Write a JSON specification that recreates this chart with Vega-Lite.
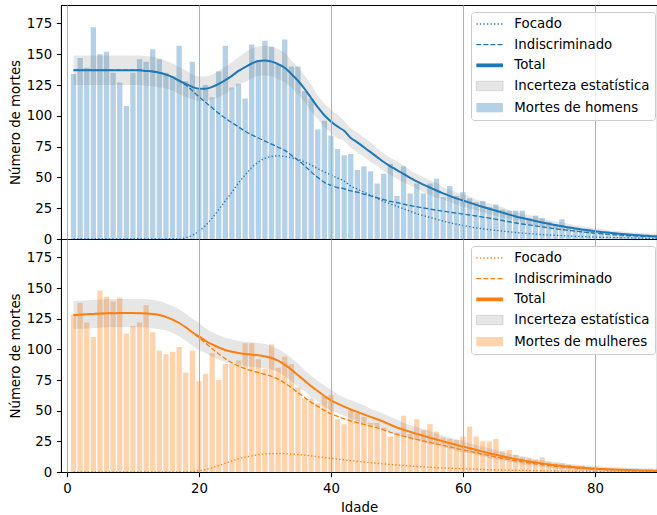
{
"$schema": "https://vega.github.io/schema/vega-lite/v6.json",
"padding": {"left": 8, "top": 4, "right": 0, "bottom": 0},
"spacing": 0,
"bounds": "flush",
"config": {
  "font": "DejaVu Sans",
  "view": {"stroke": "#000000", "strokeWidth": 1.07},
  "scale": {"continuousPadding": 0},
  "axis": {"labelFont": "DejaVu Sans", "titleFont": "DejaVu Sans", "labelFontSize": 13.33, "titleFontSize": 13.33, "titleFontWeight": "normal", "labelColor": "#000", "titleColor": "#000", "tickColor": "#000", "tickSize": 4.67, "tickWidth": 1.07, "labelPadding": 4.67, "titlePadding": 3.33, "domain": false, "gridColor": "#b0b0b0", "gridWidth": 1.07},
  "axisX": {"titlePadding": 5.33},
  "axisY": {"grid": false},
  "legend": {"labelFont": "DejaVu Sans", "title": null, "orient": "none", "legendX": 410, "legendY": 7, "padding": 5.33, "strokeColor": "#cccccc", "fillColor": "rgba(255,255,255,0.8)", "cornerRadius": 3, "labelFontSize": 13.33, "labelColor": "#000", "labelLimit": 0, "symbolSize": 100, "symbolOffset": 6.68, "labelOffset": 18, "rowPadding": 6.67, "symbolStrokeWidth": 1.33, "zindex": 2}
},
"resolve": {"scale": {"color": "independent", "strokeDash": "independent"}, "legend": {"color": "independent"}},
"datasets": {
"homens": [
{"a":1,"d":134,"Focado":0,"Indiscriminado":137,"Total":137,"lo":125,"hi":149},
{"a":2,"d":147,"Focado":0,"Indiscriminado":137,"Total":137,"lo":125,"hi":149},
{"a":3,"d":139,"Focado":0,"Indiscriminado":137,"Total":137,"lo":125,"hi":149},
{"a":4,"d":172,"Focado":0,"Indiscriminado":137,"Total":137,"lo":125,"hi":149},
{"a":5,"d":150,"Focado":0,"Indiscriminado":137,"Total":137,"lo":125,"hi":149},
{"a":6,"d":152,"Focado":0,"Indiscriminado":137,"Total":137,"lo":125,"hi":149},
{"a":7,"d":135,"Focado":0,"Indiscriminado":137,"Total":137,"lo":125,"hi":149},
{"a":8,"d":127,"Focado":0,"Indiscriminado":137,"Total":137,"lo":125,"hi":149},
{"a":9,"d":108,"Focado":0,"Indiscriminado":137,"Total":137,"lo":125,"hi":149},
{"a":10,"d":135,"Focado":0,"Indiscriminado":137,"Total":137,"lo":125,"hi":149},
{"a":11,"d":146,"Focado":0,"Indiscriminado":137,"Total":137,"lo":125,"hi":149},
{"a":12,"d":144,"Focado":0,"Indiscriminado":136.5,"Total":136.5,"lo":124.5,"hi":148.5},
{"a":13,"d":154,"Focado":0,"Indiscriminado":136,"Total":136,"lo":124,"hi":148},
{"a":14,"d":146,"Focado":0,"Indiscriminado":135,"Total":135,"lo":123,"hi":147},
{"a":15,"d":135,"Focado":0,"Indiscriminado":133.5,"Total":133.5,"lo":122.5,"hi":144.5},
{"a":16,"d":132,"Focado":0,"Indiscriminado":131.5,"Total":131.5,"lo":120.5,"hi":142.5},
{"a":17,"d":157,"Focado":0,"Indiscriminado":128.5,"Total":128.5,"lo":117.5,"hi":139.5},
{"a":18,"d":128,"Focado":1,"Indiscriminado":125,"Total":126,"lo":115,"hi":137},
{"a":19,"d":144,"Focado":3,"Indiscriminado":120.5,"Total":123.5,"lo":113.5,"hi":133.5},
{"a":20,"d":121,"Focado":6.5,"Indiscriminado":115.5,"Total":122,"lo":112,"hi":132},
{"a":21,"d":125,"Focado":11,"Indiscriminado":111,"Total":122,"lo":112,"hi":132},
{"a":22,"d":115,"Focado":17,"Indiscriminado":106.5,"Total":123.5,"lo":113.5,"hi":133.5},
{"a":23,"d":136,"Focado":24,"Indiscriminado":102,"Total":126,"lo":115,"hi":137},
{"a":24,"d":157,"Focado":31,"Indiscriminado":98,"Total":129,"lo":118,"hi":140},
{"a":25,"d":123,"Focado":38,"Indiscriminado":94.5,"Total":132.5,"lo":121.5,"hi":143.5},
{"a":26,"d":126,"Focado":45.5,"Indiscriminado":91,"Total":136.5,"lo":125.5,"hi":147.5},
{"a":27,"d":114,"Focado":52,"Indiscriminado":87.5,"Total":139.5,"lo":127.5,"hi":151.5},
{"a":28,"d":158,"Focado":58,"Indiscriminado":84.5,"Total":142.5,"lo":130.5,"hi":154.5},
{"a":29,"d":145,"Focado":62.5,"Indiscriminado":82,"Total":144.5,"lo":132.5,"hi":156.5},
{"a":30,"d":161,"Focado":65.5,"Indiscriminado":79.5,"Total":145,"lo":133,"hi":157},
{"a":31,"d":156,"Focado":67,"Indiscriminado":77,"Total":144,"lo":132,"hi":156},
{"a":32,"d":142,"Focado":67.5,"Indiscriminado":74.5,"Total":142,"lo":130,"hi":154},
{"a":33,"d":162,"Focado":67,"Indiscriminado":72,"Total":139,"lo":127,"hi":151},
{"a":34,"d":140,"Focado":66,"Indiscriminado":68,"Total":134,"lo":123,"hi":145},
{"a":35,"d":140,"Focado":64.5,"Indiscriminado":64,"Total":128.5,"lo":117.5,"hi":139.5},
{"a":36,"d":120,"Focado":62.5,"Indiscriminado":59.5,"Total":122,"lo":111,"hi":133},
{"a":37,"d":114,"Focado":60,"Indiscriminado":54.5,"Total":114.5,"lo":103.5,"hi":125.5},
{"a":38,"d":89,"Focado":57,"Indiscriminado":50,"Total":107,"lo":97.5,"hi":116.5},
{"a":39,"d":96,"Focado":54.5,"Indiscriminado":46,"Total":100.5,"lo":91,"hi":110},
{"a":40,"d":84,"Focado":52,"Indiscriminado":43.5,"Total":95.5,"lo":86,"hi":105},
{"a":41,"d":73,"Focado":49.5,"Indiscriminado":41.8,"Total":91.3,"lo":81.8,"hi":100.8},
{"a":42,"d":68,"Focado":47,"Indiscriminado":40.8,"Total":87.8,"lo":79.8,"hi":95.8},
{"a":43,"d":69,"Focado":43,"Indiscriminado":39,"Total":82,"lo":74,"hi":90},
{"a":44,"d":56,"Focado":40.5,"Indiscriminado":38,"Total":78.5,"lo":70.5,"hi":86.5},
{"a":45,"d":59,"Focado":38,"Indiscriminado":36.5,"Total":74.5,"lo":66.5,"hi":82.5},
{"a":46,"d":55,"Focado":35.5,"Indiscriminado":35,"Total":70.5,"lo":62.5,"hi":78.5},
{"a":47,"d":45,"Focado":33,"Indiscriminado":33.5,"Total":66.5,"lo":59.5,"hi":73.5},
{"a":48,"d":53,"Focado":30.5,"Indiscriminado":32,"Total":62.5,"lo":55.5,"hi":69.5},
{"a":49,"d":61,"Focado":28.5,"Indiscriminado":30.5,"Total":59,"lo":52,"hi":66},
{"a":50,"d":35,"Focado":26.5,"Indiscriminado":29.5,"Total":56,"lo":49,"hi":63},
{"a":51,"d":59,"Focado":24.5,"Indiscriminado":28.3,"Total":52.8,"lo":45.8,"hi":59.8},
{"a":52,"d":37,"Focado":22.5,"Indiscriminado":27.2,"Total":49.7,"lo":43.7,"hi":55.7},
{"a":53,"d":45,"Focado":20.5,"Indiscriminado":26.2,"Total":46.7,"lo":40.7,"hi":52.7},
{"a":54,"d":37,"Focado":19,"Indiscriminado":25.2,"Total":44.2,"lo":38.2,"hi":50.2},
{"a":55,"d":45,"Focado":17.5,"Indiscriminado":24.3,"Total":41.8,"lo":35.8,"hi":47.8},
{"a":56,"d":49,"Focado":16,"Indiscriminado":23.4,"Total":39.4,"lo":33.4,"hi":45.4},
{"a":57,"d":34,"Focado":14.5,"Indiscriminado":22.6,"Total":37.1,"lo":32.1,"hi":42.1},
{"a":58,"d":43,"Focado":13.2,"Indiscriminado":21.8,"Total":35,"lo":30,"hi":40},
{"a":59,"d":35,"Focado":12,"Indiscriminado":21,"Total":33,"lo":28,"hi":38},
{"a":60,"d":38,"Focado":11,"Indiscriminado":20.3,"Total":31.3,"lo":26.3,"hi":36.3},
{"a":61,"d":33,"Focado":10,"Indiscriminado":19.5,"Total":29.5,"lo":24.5,"hi":34.5},
{"a":62,"d":30,"Focado":9,"Indiscriminado":18.7,"Total":27.7,"lo":23.4,"hi":32},
{"a":63,"d":31,"Focado":8.3,"Indiscriminado":17.8,"Total":26.1,"lo":21.8,"hi":30.4},
{"a":64,"d":26,"Focado":7.6,"Indiscriminado":16.9,"Total":24.5,"lo":20.2,"hi":28.8},
{"a":65,"d":28,"Focado":7,"Indiscriminado":16,"Total":23,"lo":18.7,"hi":27.3},
{"a":66,"d":24,"Focado":6.4,"Indiscriminado":15,"Total":21.4,"lo":17.1,"hi":25.7},
{"a":67,"d":23,"Focado":5.8,"Indiscriminado":14,"Total":19.8,"lo":16.2,"hi":23.4},
{"a":68,"d":23,"Focado":5.3,"Indiscriminado":13,"Total":18.3,"lo":14.7,"hi":21.9},
{"a":69,"d":23,"Focado":4.8,"Indiscriminado":12.2,"Total":17,"lo":13.4,"hi":20.6},
{"a":70,"d":17,"Focado":4.4,"Indiscriminado":11.4,"Total":15.8,"lo":12.2,"hi":19.4},
{"a":71,"d":19,"Focado":4,"Indiscriminado":10.6,"Total":14.6,"lo":11,"hi":18.2},
{"a":72,"d":17,"Focado":3.6,"Indiscriminado":9.8,"Total":13.4,"lo":10.4,"hi":16.4},
{"a":73,"d":14,"Focado":3.3,"Indiscriminado":9,"Total":12.3,"lo":9.3,"hi":15.3},
{"a":74,"d":12,"Focado":3,"Indiscriminado":8.3,"Total":11.3,"lo":8.3,"hi":14.3},
{"a":75,"d":16,"Focado":2.7,"Indiscriminado":7.6,"Total":10.3,"lo":7.3,"hi":13.3},
{"a":76,"d":10,"Focado":2.4,"Indiscriminado":7,"Total":9.4,"lo":6.4,"hi":12.4},
{"a":77,"d":9,"Focado":2.2,"Indiscriminado":6.4,"Total":8.6,"lo":6.1,"hi":11.1},
{"a":78,"d":8,"Focado":2,"Indiscriminado":5.8,"Total":7.8,"lo":5.3,"hi":10.3},
{"a":79,"d":8,"Focado":1.8,"Indiscriminado":5.3,"Total":7.1,"lo":4.6,"hi":9.6},
{"a":80,"d":6,"Focado":1.6,"Indiscriminado":4.8,"Total":6.4,"lo":3.9,"hi":8.9},
{"a":81,"d":5,"Focado":1.4,"Indiscriminado":4.3,"Total":5.7,"lo":3.2,"hi":8.2},
{"a":82,"d":4,"Focado":1.3,"Indiscriminado":3.9,"Total":5.2,"lo":3.2,"hi":7.2},
{"a":83,"d":4,"Focado":1.1,"Indiscriminado":3.5,"Total":4.6,"lo":2.6,"hi":6.6},
{"a":84,"d":3,"Focado":1,"Indiscriminado":3.1,"Total":4.1,"lo":2.1,"hi":6.1},
{"a":85,"d":3,"Focado":0.9,"Indiscriminado":2.8,"Total":3.7,"lo":1.7,"hi":5.7},
{"a":86,"d":2,"Focado":0.8,"Indiscriminado":2.5,"Total":3.3,"lo":1.3,"hi":5.3},
{"a":87,"d":2,"Focado":0.7,"Indiscriminado":2.2,"Total":2.9,"lo":0.9,"hi":4.9},
{"a":88,"d":1,"Focado":0.6,"Indiscriminado":2,"Total":2.6,"lo":0.6,"hi":4.6},
{"a":89,"d":1,"Focado":0.5,"Indiscriminado":1.8,"Total":2.3,"lo":0.3,"hi":4.3},
{"a":90,"d":null,"Focado":0.5,"Indiscriminado":1.6,"Total":2.1,"lo":0.1,"hi":4.1}
],
"mulheres": [
{"a":1,"d":128,"Focado":0,"Indiscriminado":128,"Total":128,"lo":116.5,"hi":139.5},
{"a":2,"d":138,"Focado":0,"Indiscriminado":128.3,"Total":128.3,"lo":116.8,"hi":139.8},
{"a":3,"d":122,"Focado":0,"Indiscriminado":128.6,"Total":128.6,"lo":117.1,"hi":140.1},
{"a":4,"d":110,"Focado":0,"Indiscriminado":128.9,"Total":128.9,"lo":117.4,"hi":140.4},
{"a":5,"d":148,"Focado":0,"Indiscriminado":129.2,"Total":129.2,"lo":117.7,"hi":140.7},
{"a":6,"d":143,"Focado":0,"Indiscriminado":129.4,"Total":129.4,"lo":117.9,"hi":140.9},
{"a":7,"d":139,"Focado":0,"Indiscriminado":129.5,"Total":129.5,"lo":118,"hi":141},
{"a":8,"d":142,"Focado":0,"Indiscriminado":129.6,"Total":129.6,"lo":118.1,"hi":141.1},
{"a":9,"d":113,"Focado":0,"Indiscriminado":129.6,"Total":129.6,"lo":118.1,"hi":141.1},
{"a":10,"d":119,"Focado":0,"Indiscriminado":129.6,"Total":129.6,"lo":118.1,"hi":141.1},
{"a":11,"d":122,"Focado":0,"Indiscriminado":129.5,"Total":129.5,"lo":118,"hi":141},
{"a":12,"d":136,"Focado":0,"Indiscriminado":129.3,"Total":129.3,"lo":117.8,"hi":140.8},
{"a":13,"d":114,"Focado":0,"Indiscriminado":128.8,"Total":128.8,"lo":117.3,"hi":140.3},
{"a":14,"d":99,"Focado":0,"Indiscriminado":128,"Total":128,"lo":116.5,"hi":139.5},
{"a":15,"d":96,"Focado":0,"Indiscriminado":126.5,"Total":126.5,"lo":115.5,"hi":137.5},
{"a":16,"d":98,"Focado":0,"Indiscriminado":124.3,"Total":124.3,"lo":113.3,"hi":135.3},
{"a":17,"d":102,"Focado":0,"Indiscriminado":121.5,"Total":121.5,"lo":110.5,"hi":132.5},
{"a":18,"d":81,"Focado":0,"Indiscriminado":118,"Total":118,"lo":107,"hi":129},
{"a":19,"d":99,"Focado":0.3,"Indiscriminado":113.7,"Total":114,"lo":103,"hi":125},
{"a":20,"d":74,"Focado":1,"Indiscriminado":109.5,"Total":110.5,"lo":99.5,"hi":121.5},
{"a":21,"d":80,"Focado":2,"Indiscriminado":105,"Total":107,"lo":97,"hi":117},
{"a":22,"d":97,"Focado":3.5,"Indiscriminado":100.5,"Total":104,"lo":94,"hi":114},
{"a":23,"d":75,"Focado":5.3,"Indiscriminado":96.2,"Total":101.5,"lo":91.5,"hi":111.5},
{"a":24,"d":88,"Focado":7.2,"Indiscriminado":92.3,"Total":99.5,"lo":89.5,"hi":109.5},
{"a":25,"d":88,"Focado":9,"Indiscriminado":89,"Total":98,"lo":88,"hi":108},
{"a":26,"d":91,"Focado":10.7,"Indiscriminado":86.3,"Total":97,"lo":87,"hi":107},
{"a":27,"d":105,"Focado":12.1,"Indiscriminado":84.2,"Total":96.3,"lo":86.3,"hi":106.3},
{"a":28,"d":105,"Focado":13.2,"Indiscriminado":82.6,"Total":95.8,"lo":85.8,"hi":105.8},
{"a":29,"d":92,"Focado":14.1,"Indiscriminado":81.1,"Total":95.2,"lo":85.2,"hi":105.2},
{"a":30,"d":84,"Focado":14.7,"Indiscriminado":79.6,"Total":94.3,"lo":84.3,"hi":104.3},
{"a":31,"d":104,"Focado":15,"Indiscriminado":78,"Total":93,"lo":83.5,"hi":102.5},
{"a":32,"d":85,"Focado":15.1,"Indiscriminado":75.7,"Total":90.8,"lo":81.3,"hi":100.3},
{"a":33,"d":94,"Focado":15,"Indiscriminado":72.5,"Total":87.5,"lo":78,"hi":97},
{"a":34,"d":88,"Focado":14.7,"Indiscriminado":68.8,"Total":83.5,"lo":74,"hi":93},
{"a":35,"d":69,"Focado":14.3,"Indiscriminado":64.7,"Total":79,"lo":69.5,"hi":88.5},
{"a":36,"d":60,"Focado":13.8,"Indiscriminado":60.7,"Total":74.5,"lo":66,"hi":83},
{"a":37,"d":60,"Focado":13.2,"Indiscriminado":56.8,"Total":70,"lo":61.5,"hi":78.5},
{"a":38,"d":56,"Focado":12.5,"Indiscriminado":53.5,"Total":66,"lo":57.5,"hi":74.5},
{"a":39,"d":62,"Focado":11.8,"Indiscriminado":50.2,"Total":62,"lo":53.5,"hi":70.5},
{"a":40,"d":63,"Focado":11.1,"Indiscriminado":47.4,"Total":58.5,"lo":50,"hi":67},
{"a":41,"d":43,"Focado":10.5,"Indiscriminado":45.3,"Total":55.8,"lo":48.3,"hi":63.3},
{"a":42,"d":39,"Focado":9.9,"Indiscriminado":43.4,"Total":53.3,"lo":45.8,"hi":60.8},
{"a":43,"d":50,"Focado":9.3,"Indiscriminado":41.7,"Total":51,"lo":43.5,"hi":58.5},
{"a":44,"d":48,"Focado":8.7,"Indiscriminado":40.3,"Total":49,"lo":41.5,"hi":56.5},
{"a":45,"d":45,"Focado":8.1,"Indiscriminado":38.9,"Total":47,"lo":39.5,"hi":54.5},
{"a":46,"d":40,"Focado":7.6,"Indiscriminado":37.4,"Total":45,"lo":38.5,"hi":51.5},
{"a":47,"d":40,"Focado":7.1,"Indiscriminado":35.9,"Total":43,"lo":36.5,"hi":49.5},
{"a":48,"d":36,"Focado":6.6,"Indiscriminado":34.4,"Total":41,"lo":34.5,"hi":47.5},
{"a":49,"d":29,"Focado":6.1,"Indiscriminado":32.4,"Total":38.5,"lo":32,"hi":45},
{"a":50,"d":32,"Focado":5.7,"Indiscriminado":30.6,"Total":36.3,"lo":29.8,"hi":42.8},
{"a":51,"d":46,"Focado":5.3,"Indiscriminado":29.2,"Total":34.5,"lo":29,"hi":40},
{"a":52,"d":31,"Focado":4.9,"Indiscriminado":27.9,"Total":32.8,"lo":27.3,"hi":38.3},
{"a":53,"d":43,"Focado":4.5,"Indiscriminado":26.6,"Total":31.1,"lo":25.6,"hi":36.6},
{"a":54,"d":34,"Focado":4.2,"Indiscriminado":25.3,"Total":29.5,"lo":24,"hi":35},
{"a":55,"d":39,"Focado":3.9,"Indiscriminado":24.1,"Total":28,"lo":22.5,"hi":33.5},
{"a":56,"d":33,"Focado":3.6,"Indiscriminado":22.9,"Total":26.5,"lo":21.8,"hi":31.2},
{"a":57,"d":28,"Focado":3.3,"Indiscriminado":21.7,"Total":25,"lo":20.3,"hi":29.7},
{"a":58,"d":27,"Focado":3.1,"Indiscriminado":20.4,"Total":23.5,"lo":18.8,"hi":28.2},
{"a":59,"d":26,"Focado":2.9,"Indiscriminado":19.2,"Total":22.1,"lo":17.4,"hi":26.8},
{"a":60,"d":29,"Focado":2.7,"Indiscriminado":18,"Total":20.7,"lo":16,"hi":25.4},
{"a":61,"d":37,"Focado":2.5,"Indiscriminado":16.9,"Total":19.4,"lo":15.4,"hi":23.4},
{"a":62,"d":29,"Focado":2.3,"Indiscriminado":15.7,"Total":18,"lo":14,"hi":22},
{"a":63,"d":25,"Focado":2.1,"Indiscriminado":14.5,"Total":16.6,"lo":12.6,"hi":20.6},
{"a":64,"d":25,"Focado":1.9,"Indiscriminado":13.4,"Total":15.3,"lo":11.3,"hi":19.3},
{"a":65,"d":27,"Focado":1.8,"Indiscriminado":12.2,"Total":14,"lo":10,"hi":18},
{"a":66,"d":17,"Focado":1.6,"Indiscriminado":11.2,"Total":12.8,"lo":9.5,"hi":16.1},
{"a":67,"d":18,"Focado":1.5,"Indiscriminado":10.1,"Total":11.6,"lo":8.3,"hi":14.9},
{"a":68,"d":14,"Focado":1.4,"Indiscriminado":9.1,"Total":10.5,"lo":7.2,"hi":13.8},
{"a":69,"d":12,"Focado":1.3,"Indiscriminado":8.2,"Total":9.5,"lo":6.2,"hi":12.8},
{"a":70,"d":11,"Focado":1.2,"Indiscriminado":7.4,"Total":8.6,"lo":5.3,"hi":11.9},
{"a":71,"d":10,"Focado":1.1,"Indiscriminado":6.6,"Total":7.7,"lo":5,"hi":10.4},
{"a":72,"d":12,"Focado":1,"Indiscriminado":5.9,"Total":6.9,"lo":4.2,"hi":9.6},
{"a":73,"d":8,"Focado":0.9,"Indiscriminado":5.3,"Total":6.2,"lo":3.5,"hi":8.9},
{"a":74,"d":7,"Focado":0.8,"Indiscriminado":4.7,"Total":5.5,"lo":2.8,"hi":8.2},
{"a":75,"d":7,"Focado":0.75,"Indiscriminado":4.15,"Total":4.9,"lo":2.2,"hi":7.6},
{"a":76,"d":6,"Focado":0.7,"Indiscriminado":3.7,"Total":4.4,"lo":2.2,"hi":6.6},
{"a":77,"d":5,"Focado":0.6,"Indiscriminado":3.3,"Total":3.9,"lo":1.7,"hi":6.1},
{"a":78,"d":5,"Focado":0.55,"Indiscriminado":2.95,"Total":3.5,"lo":1.3,"hi":5.7},
{"a":79,"d":4,"Focado":0.5,"Indiscriminado":2.6,"Total":3.1,"lo":0.9,"hi":5.3},
{"a":80,"d":3,"Focado":0.45,"Indiscriminado":2.35,"Total":2.8,"lo":0.6,"hi":5},
{"a":81,"d":3,"Focado":0.4,"Indiscriminado":2.1,"Total":2.5,"lo":0.7,"hi":4.3},
{"a":82,"d":2,"Focado":0.35,"Indiscriminado":1.85,"Total":2.2,"lo":0.4,"hi":4},
{"a":83,"d":2,"Focado":0.3,"Indiscriminado":1.7,"Total":2,"lo":0.2,"hi":3.8},
{"a":84,"d":2,"Focado":0.3,"Indiscriminado":1.5,"Total":1.8,"lo":0,"hi":3.6},
{"a":85,"d":1,"Focado":0.25,"Indiscriminado":1.35,"Total":1.6,"lo":0,"hi":3.4},
{"a":86,"d":1,"Focado":0.2,"Indiscriminado":1.2,"Total":1.4,"lo":0,"hi":3.2},
{"a":87,"d":1,"Focado":0.2,"Indiscriminado":1.1,"Total":1.3,"lo":0,"hi":3.1},
{"a":88,"d":1,"Focado":0.2,"Indiscriminado":1,"Total":1.2,"lo":0,"hi":3},
{"a":89,"d":0.5,"Focado":0.15,"Indiscriminado":0.95,"Total":1.1,"lo":0,"hi":2.9},
{"a":90,"d":null,"Focado":0.15,"Indiscriminado":0.85,"Total":1,"lo":0,"hi":2.8}
]
},
"vconcat": [
{
  "width": 596, "height": 234,
  "data": {"name": "homens"},
  "encoding": {"x": {"field": "a", "type": "quantitative", "scale": {"domain": [-0.9, 89.4], "nice": false, "zero": false, "padding": 0}, "axis": {"values": [0, 20, 40, 60, 80], "labels": false, "ticks": false, "tickSize": 0, "labelPadding": 0, "title": null, "grid": true, "zindex": 1}}},
  "layer": [
    {"mark": {"type": "bar", "size": 5.3, "clip": true, "opacity": 1},
     "encoding": {
       "y": {"field": "d", "type": "quantitative", "scale": {"domain": [0, 190], "nice": false}, "axis": {"values": [0, 25, 50, 75, 100, 125, 150, 175], "title": "Número de mortes", "grid": false, "labelOverlap": false}},
       "color": {"datum": "Mortes de homens", "type": "nominal",
         "scale": {"domain": ["Focado", "Indiscriminado", "Total", "Incerteza estatística", "Mortes de homens"], "range": ["#1f77b4", "#1f77b4", "#1f77b4", "#808080", "#b4d1e7"]},
         "legend": {"title": null, "orient": "none", "legendX": 410, "legendY": 7,
           "encode": {"symbols": {"update": {
             "shape": {"signal": "datum.index < 2 ? 'M-2.67,0H2.67' : datum.index == 2 ? 'M-2.67,-0.375H2.67V0.375H-2.67Z' : 'M-2.67,-0.93H2.67V0.93H-2.67Z'"},
             "fillOpacity": {"signal": "datum.index == 3 ? 0.2 : 1"},
             "strokeOpacity": {"signal": "datum.index < 2 ? 1 : datum.index == 3 ? 0.2 : 0"},
             "strokeDash": {"signal": "datum.index == 0 ? [1.33, 2.2] : datum.index == 1 ? [4.93, 2.13] : [1, 0]"},
             "opacity": {"value": 1}
           }}}}}
     }},
    {"mark": {"type": "area", "clip": true, "opacity": 0.2, "interpolate": "monotone"},
     "encoding": {"y": {"field": "lo", "type": "quantitative", "axis": {"values": [0, 25, 50, 75, 100, 125, 150, 175], "title": "Número de mortes", "grid": false, "labelOverlap": false}}, "y2": {"field": "hi"},
       "color": {"datum": "Incerteza estatística", "type": "nominal",
         "scale": {"domain": ["Focado", "Indiscriminado", "Total", "Incerteza estatística", "Mortes de homens"], "range": ["#1f77b4", "#1f77b4", "#1f77b4", "#808080", "#b4d1e7"]},
         "legend": {"title": null, "orient": "none", "legendX": 410, "legendY": 7,
           "encode": {"symbols": {"update": {
             "shape": {"signal": "datum.index < 2 ? 'M-2.67,0H2.67' : datum.index == 2 ? 'M-2.67,-0.375H2.67V0.375H-2.67Z' : 'M-2.67,-0.93H2.67V0.93H-2.67Z'"},
             "fillOpacity": {"signal": "datum.index == 3 ? 0.2 : 1"},
             "strokeOpacity": {"signal": "datum.index < 2 ? 1 : datum.index == 3 ? 0.2 : 0"},
             "strokeDash": {"signal": "datum.index == 0 ? [1.33, 2.2] : datum.index == 1 ? [4.93, 2.13] : [1, 0]"},
             "opacity": {"value": 1}
           }}}}}}},
    {"transform": [{"fold": ["Focado", "Indiscriminado"], "as": ["serie", "valor"]}],
     "mark": {"type": "line", "clip": true, "strokeWidth": 1.33, "interpolate": "monotone"},
     "encoding": {"y": {"field": "valor", "type": "quantitative", "axis": {"values": [0, 25, 50, 75, 100, 125, 150, 175], "title": "Número de mortes", "grid": false, "labelOverlap": false}},
       "color": {"field": "serie", "type": "nominal",
         "scale": {"domain": ["Focado", "Indiscriminado", "Total", "Incerteza estatística", "Mortes de homens"], "range": ["#1f77b4", "#1f77b4", "#1f77b4", "#808080", "#b4d1e7"]},
         "legend": {"title": null, "orient": "none", "legendX": 410, "legendY": 7,
           "encode": {"symbols": {"update": {
             "shape": {"signal": "datum.index < 2 ? 'M-2.67,0H2.67' : datum.index == 2 ? 'M-2.67,-0.375H2.67V0.375H-2.67Z' : 'M-2.67,-0.93H2.67V0.93H-2.67Z'"},
             "fillOpacity": {"signal": "datum.index == 3 ? 0.2 : 1"},
             "strokeOpacity": {"signal": "datum.index < 2 ? 1 : datum.index == 3 ? 0.2 : 0"},
             "strokeDash": {"signal": "datum.index == 0 ? [1.33, 2.2] : datum.index == 1 ? [4.93, 2.13] : [1, 0]"},
             "opacity": {"value": 1}
           }}}}},
       "strokeDash": {"field": "serie", "type": "nominal", "scale": {"domain": ["Focado", "Indiscriminado"], "range": [[1.33, 2.2], [4.93, 2.13]]}, "legend": null}}},
    {"mark": {"type": "line", "clip": true, "strokeWidth": 2, "interpolate": "monotone"},
     "encoding": {"y": {"field": "Total", "type": "quantitative", "axis": {"values": [0, 25, 50, 75, 100, 125, 150, 175], "title": "Número de mortes", "grid": false, "labelOverlap": false}},
       "color": {"datum": "Total", "type": "nominal",
         "scale": {"domain": ["Focado", "Indiscriminado", "Total", "Incerteza estatística", "Mortes de homens"], "range": ["#1f77b4", "#1f77b4", "#1f77b4", "#808080", "#b4d1e7"]},
         "legend": {"title": null, "orient": "none", "legendX": 410, "legendY": 7,
           "encode": {"symbols": {"update": {
             "shape": {"signal": "datum.index < 2 ? 'M-2.67,0H2.67' : datum.index == 2 ? 'M-2.67,-0.375H2.67V0.375H-2.67Z' : 'M-2.67,-0.93H2.67V0.93H-2.67Z'"},
             "fillOpacity": {"signal": "datum.index == 3 ? 0.2 : 1"},
             "strokeOpacity": {"signal": "datum.index < 2 ? 1 : datum.index == 3 ? 0.2 : 0"},
             "strokeDash": {"signal": "datum.index == 0 ? [1.33, 2.2] : datum.index == 1 ? [4.93, 2.13] : [1, 0]"},
             "opacity": {"value": 1}
           }}}}}}}
  ]
},
{
  "width": 596, "height": 233,
  "data": {"name": "mulheres"},
  "encoding": {"x": {"field": "a", "type": "quantitative", "scale": {"domain": [-0.9, 89.4], "nice": false, "zero": false, "padding": 0}, "axis": {"values": [0, 20, 40, 60, 80], "title": "Idade", "grid": true, "zindex": 1}}},
  "layer": [
    {"mark": {"type": "bar", "size": 5.3, "clip": true, "opacity": 1},
     "encoding": {
       "y": {"field": "d", "type": "quantitative", "scale": {"domain": [0, 190], "nice": false}, "axis": {"values": [0, 25, 50, 75, 100, 125, 150, 175], "title": "Número de mortes", "grid": false, "labelOverlap": false}},
       "color": {"datum": "Mortes de mulheres", "type": "nominal",
         "scale": {"domain": ["Focado", "Indiscriminado", "Total", "Incerteza estatística", "Mortes de mulheres"], "range": ["#ff7f0e", "#ff7f0e", "#ff7f0e", "#808080", "#ffd3ac"]},
         "legend": {"title": null, "orient": "none", "legendX": 410, "legendY": 7,
           "encode": {"symbols": {"update": {
             "shape": {"signal": "datum.index < 2 ? 'M-2.67,0H2.67' : datum.index == 2 ? 'M-2.67,-0.375H2.67V0.375H-2.67Z' : 'M-2.67,-0.93H2.67V0.93H-2.67Z'"},
             "fillOpacity": {"signal": "datum.index == 3 ? 0.2 : 1"},
             "strokeOpacity": {"signal": "datum.index < 2 ? 1 : datum.index == 3 ? 0.2 : 0"},
             "strokeDash": {"signal": "datum.index == 0 ? [1.33, 2.2] : datum.index == 1 ? [4.93, 2.13] : [1, 0]"},
             "opacity": {"value": 1}
           }}}}}
     }},
    {"mark": {"type": "area", "clip": true, "opacity": 0.2, "interpolate": "monotone"},
     "encoding": {"y": {"field": "lo", "type": "quantitative", "axis": {"values": [0, 25, 50, 75, 100, 125, 150, 175], "title": "Número de mortes", "grid": false, "labelOverlap": false}}, "y2": {"field": "hi"},
       "color": {"datum": "Incerteza estatística", "type": "nominal",
         "scale": {"domain": ["Focado", "Indiscriminado", "Total", "Incerteza estatística", "Mortes de mulheres"], "range": ["#ff7f0e", "#ff7f0e", "#ff7f0e", "#808080", "#ffd3ac"]},
         "legend": {"title": null, "orient": "none", "legendX": 410, "legendY": 7,
           "encode": {"symbols": {"update": {
             "shape": {"signal": "datum.index < 2 ? 'M-2.67,0H2.67' : datum.index == 2 ? 'M-2.67,-0.375H2.67V0.375H-2.67Z' : 'M-2.67,-0.93H2.67V0.93H-2.67Z'"},
             "fillOpacity": {"signal": "datum.index == 3 ? 0.2 : 1"},
             "strokeOpacity": {"signal": "datum.index < 2 ? 1 : datum.index == 3 ? 0.2 : 0"},
             "strokeDash": {"signal": "datum.index == 0 ? [1.33, 2.2] : datum.index == 1 ? [4.93, 2.13] : [1, 0]"},
             "opacity": {"value": 1}
           }}}}}}},
    {"transform": [{"fold": ["Focado", "Indiscriminado"], "as": ["serie", "valor"]}],
     "mark": {"type": "line", "clip": true, "strokeWidth": 1.33, "interpolate": "monotone"},
     "encoding": {"y": {"field": "valor", "type": "quantitative", "axis": {"values": [0, 25, 50, 75, 100, 125, 150, 175], "title": "Número de mortes", "grid": false, "labelOverlap": false}},
       "color": {"field": "serie", "type": "nominal",
         "scale": {"domain": ["Focado", "Indiscriminado", "Total", "Incerteza estatística", "Mortes de mulheres"], "range": ["#ff7f0e", "#ff7f0e", "#ff7f0e", "#808080", "#ffd3ac"]},
         "legend": {"title": null, "orient": "none", "legendX": 410, "legendY": 7,
           "encode": {"symbols": {"update": {
             "shape": {"signal": "datum.index < 2 ? 'M-2.67,0H2.67' : datum.index == 2 ? 'M-2.67,-0.375H2.67V0.375H-2.67Z' : 'M-2.67,-0.93H2.67V0.93H-2.67Z'"},
             "fillOpacity": {"signal": "datum.index == 3 ? 0.2 : 1"},
             "strokeOpacity": {"signal": "datum.index < 2 ? 1 : datum.index == 3 ? 0.2 : 0"},
             "strokeDash": {"signal": "datum.index == 0 ? [1.33, 2.2] : datum.index == 1 ? [4.93, 2.13] : [1, 0]"},
             "opacity": {"value": 1}
           }}}}},
       "strokeDash": {"field": "serie", "type": "nominal", "scale": {"domain": ["Focado", "Indiscriminado"], "range": [[1.33, 2.2], [4.93, 2.13]]}, "legend": null}}},
    {"mark": {"type": "line", "clip": true, "strokeWidth": 2, "interpolate": "monotone"},
     "encoding": {"y": {"field": "Total", "type": "quantitative", "axis": {"values": [0, 25, 50, 75, 100, 125, 150, 175], "title": "Número de mortes", "grid": false, "labelOverlap": false}},
       "color": {"datum": "Total", "type": "nominal",
         "scale": {"domain": ["Focado", "Indiscriminado", "Total", "Incerteza estatística", "Mortes de mulheres"], "range": ["#ff7f0e", "#ff7f0e", "#ff7f0e", "#808080", "#ffd3ac"]},
         "legend": {"title": null, "orient": "none", "legendX": 410, "legendY": 7,
           "encode": {"symbols": {"update": {
             "shape": {"signal": "datum.index < 2 ? 'M-2.67,0H2.67' : datum.index == 2 ? 'M-2.67,-0.375H2.67V0.375H-2.67Z' : 'M-2.67,-0.93H2.67V0.93H-2.67Z'"},
             "fillOpacity": {"signal": "datum.index == 3 ? 0.2 : 1"},
             "strokeOpacity": {"signal": "datum.index < 2 ? 1 : datum.index == 3 ? 0.2 : 0"},
             "strokeDash": {"signal": "datum.index == 0 ? [1.33, 2.2] : datum.index == 1 ? [4.93, 2.13] : [1, 0]"},
             "opacity": {"value": 1}
           }}}}}}}
  ]
}
]
}
